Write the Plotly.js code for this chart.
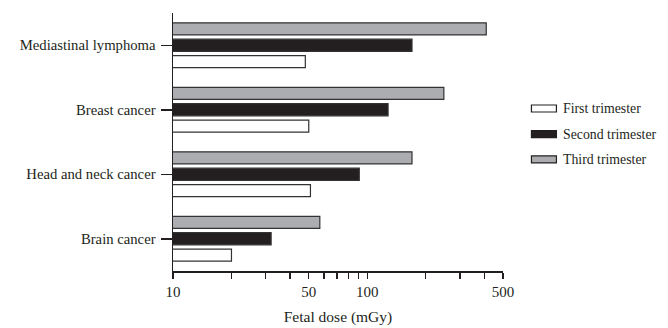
<!DOCTYPE html>
<html>
<head>
<meta charset="utf-8">
<script src="https://cdn.plot.ly/plotly-3.0.1.min.js"></script>
<style>html,body{margin:0;padding:0;background:#fff;}#chart{width:668px;height:328px;}</style>
</head>
<body>
<div id="chart"></div>
<script>
var categories = ["Brain cancer", "Head and neck cancer", "Breast cancer", "Mediastinal lymphoma"];
var firstTrimester = [20, 51, 50, 48];
var secondTrimester = [32, 91, 128, 170];
var thirdTrimester = [57, 170, 248, 410];
var seriesNames = ["First trimester", "Second trimester", "Third trimester"];
var tickValues = [10, 20, 30, 40, 50, 60, 70, 80, 90, 100, 200, 300, 400, 500];
var tickLabels = ["10", "", "", "", "50", "", "", "", "", "100", "", "", "", "500"];

var fills = ["#ffffff", "#231f20", "#abadb0"];
var edge = "#333333";
var font = "Liberation Serif, Times New Roman, serif";

var data = [firstTrimester, secondTrimester, thirdTrimester].map(function (vals, i) {
  return {
    type: "bar", orientation: "h", name: seriesNames[i],
    x: vals, y: categories, base: 0,
    marker: {color: fills[i], line: {color: edge, width: 1.2}},
    showlegend: false, hoverinfo: "x+y"
  };
});

// custom legend (wide, thin keys like the reference)
var legendRows = [0.6299, 0.5304, 0.4324];
var shapes = [], annotations = [];
seriesNames.forEach(function (n, i) {
  var yc = legendRows[i];
  shapes.push({type: "rect", xref: "paper", yref: "paper",
    x0: 1.0862, x1: 1.1619, y0: yc - 0.0136, y1: yc + 0.0136,
    fillcolor: fills[i], line: {color: "#231f20", width: 1.2}});
  annotations.push({xref: "paper", yref: "paper", x: 1.176, y: yc,
    xanchor: "left", yanchor: "middle", showarrow: false, text: n,
    font: {family: font, size: 13.8, color: "#231f20"}});
});

var layout = {
  width: 668, height: 328,
  margin: {l: 173, r: 164.5, t: 12.7, b: 57, pad: 0},
  paper_bgcolor: "#fff", plot_bgcolor: "#fff",
  barmode: "group", bargap: 0.24, bargroupgap: 0.26,
  showlegend: false,
  font: {family: font, color: "#231f20"},
  xaxis: {
    type: "log", range: [1, Math.log10(500)],
    tickvals: tickValues, ticktext: tickLabels,
    ticks: "outside", ticklen: 6, tickwidth: 1.3, tickcolor: "#231f20",
    showline: true, linecolor: "#231f20", linewidth: 1.5,
    showgrid: false, zeroline: false,
    tickfont: {family: font, size: 15, color: "#231f20"},
    title: {text: "Fetal dose (mGy)", font: {family: font, size: 15.5, color: "#231f20"}, standoff: 12}
  },
  yaxis: {
    type: "category", range: [-0.5, 3.5],
    ticks: "outside", ticklen: 11, tickwidth: 1.5, tickcolor: "#231f20",
    showline: true, linecolor: "#231f20", linewidth: 1.5,
    showgrid: false, zeroline: false,
    tickfont: {family: font, size: 14.7, color: "#231f20"},
    ticklabelstandoff: 2
  },
  shapes: shapes, annotations: annotations
};

Plotly.newPlot("chart", data, layout, {displayModeBar: false, staticPlot: true});
</script>
</body>
</html>
